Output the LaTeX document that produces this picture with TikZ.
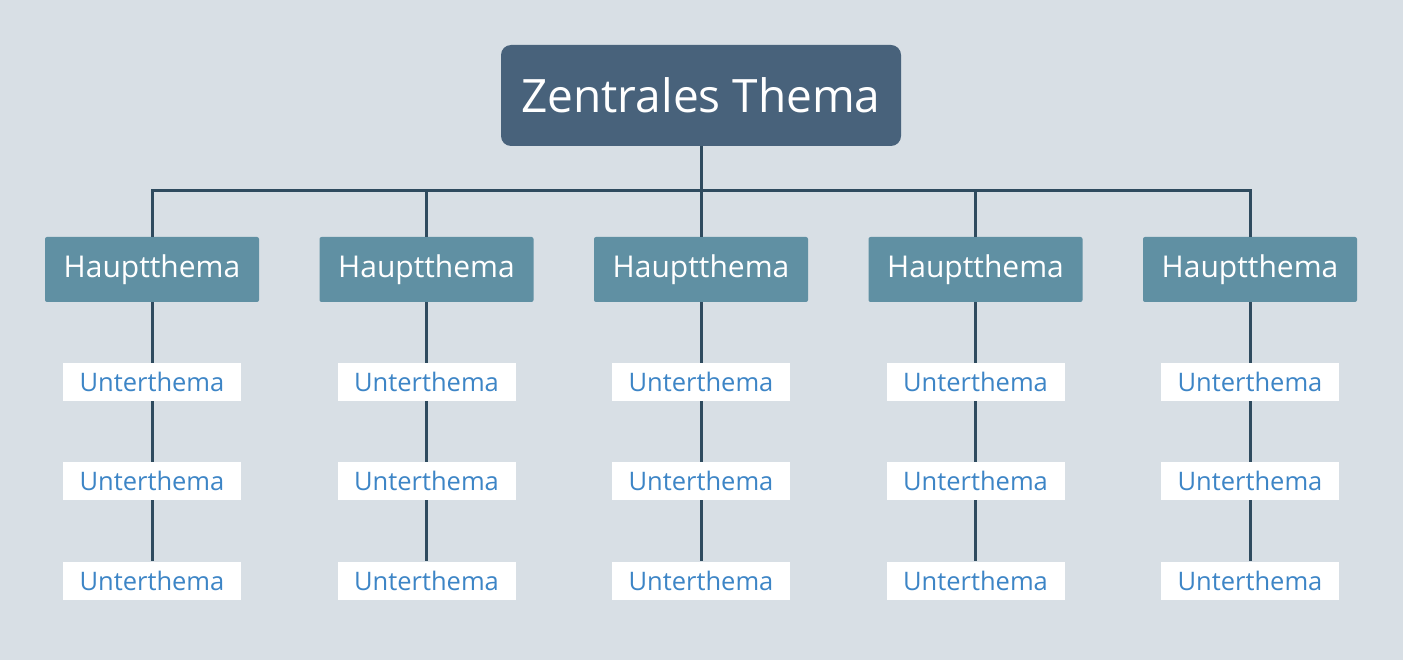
\documentclass[tikz,border=0pt]{standalone}
\usepackage{fontspec}
\setmainfont{Open Sans}
\definecolor{bg}{HTML}{D8DFE5}
\definecolor{central}{HTML}{48627B}
\definecolor{mainc}{HTML}{6090A3}
\definecolor{linec}{HTML}{2F4B5F}
\definecolor{subtext}{HTML}{3D85C6}
\tikzset{
  centralbox/.style={fill=central, rounded corners=10pt, minimum width=400pt, minimum height=101pt, inner sep=0pt, text=white, font=\fontsize{46}{52}\selectfont},
  mainbox/.style={fill=mainc, rounded corners=2pt, minimum width=214pt, minimum height=65pt, inner sep=0pt, text=white, font=\fontsize{30}{36}\selectfont},
  subbox/.style={fill=white, minimum width=178pt, minimum height=38pt, inner sep=0pt, text=subtext, font=\fontsize{25.5}{30}\selectfont},
  conn/.style={draw=linec, line width=3pt}
}
\begin{document}
\begin{tikzpicture}[x=1pt,y=-1pt]
\fill[bg] (0,0) rectangle (1403,660);
\useasboundingbox (0,0) rectangle (1403,660);
\node[centralbox] (c) at (701,95.5) {Zentrales Thema};
\coordinate (bus) at (701,191);
\draw[conn] (c.south) -- (bus);
\foreach \i/\x in {1/152,2/426.5,3/701,4/975.5,5/1250} {
  \node[mainbox] (m\i) at (\x,269.5) {\raisebox{-3pt}{Hauptthema}};
  \draw[conn] (bus) -| (m\i.north);
  \node[subbox] (s\i a) at (\x,382) {\raisebox{-2pt}{Unterthema}};
  \node[subbox] (s\i b) at (\x,481) {\raisebox{-2pt}{Unterthema}};
  \node[subbox] (s\i c) at (\x,580.5) {\raisebox{-2pt}{Unterthema}};
}
\foreach \i in {1,...,5} {
  \draw[conn] (m\i.south) -- (s\i a.north);
  \draw[conn] (s\i a.south) -- (s\i b.north);
  \draw[conn] (s\i b.south) -- (s\i c.north);
}
\end{tikzpicture}
\end{document}
